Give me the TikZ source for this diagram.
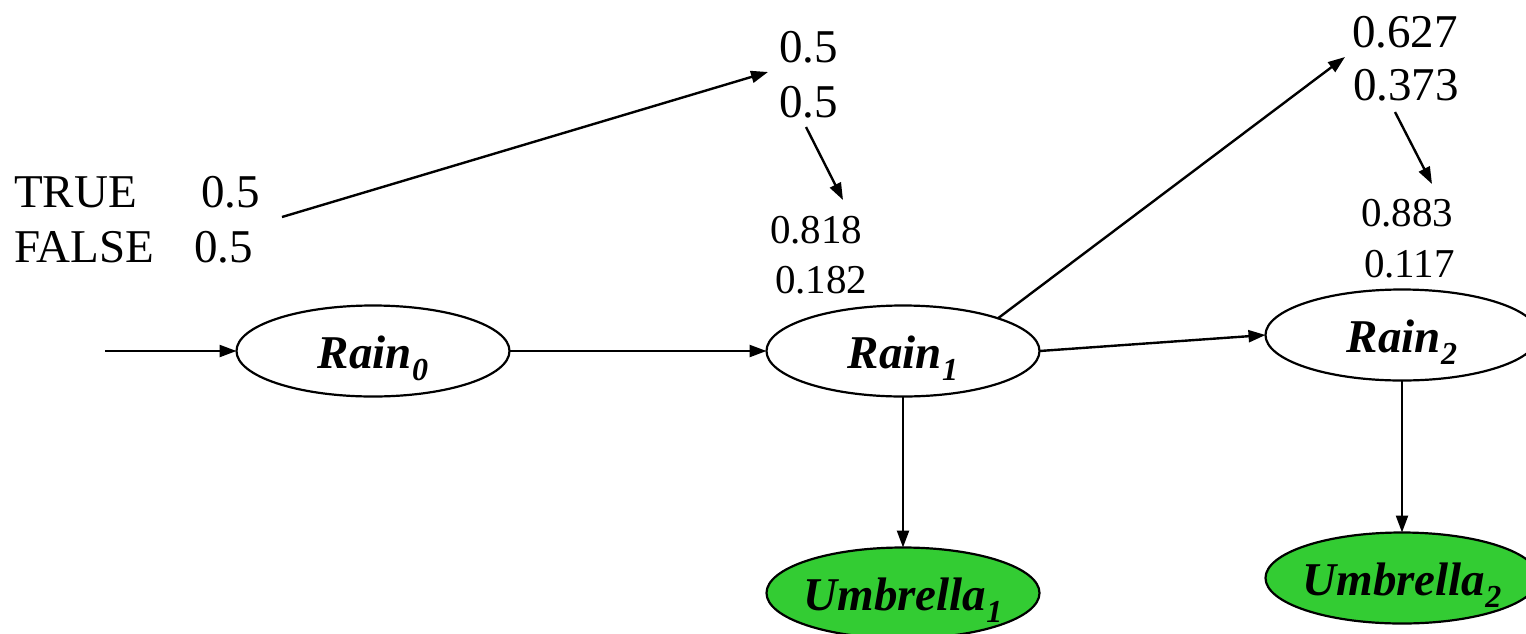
\documentclass[tikz,border=0pt]{standalone}
\usepackage{fontspec}
\setmainfont{Liberation Serif}
\usetikzlibrary{arrows.meta,shapes.geometric}
\definecolor{umbgreen}{RGB}{51,204,51}
\newcommand\subidx[1]{\raisebox{-12pt}{\fontsize{32}{32}\selectfont #1}}
\newcommand\vlab[2]{\makebox[0pt][c]{#1\subidx{#2}}}
\begin{document}
\begin{tikzpicture}[x=1pt,y=-1pt,
  every node/.style={inner sep=0pt,outer sep=0pt},
  var/.style={ellipse,draw=black,line width=2.2pt,minimum width=273pt,minimum height=91pt,
    font=\fontsize{47}{56}\selectfont\bfseries\itshape,text height=34pt,text depth=0pt},
  ev/.style={var,fill=umbgreen},
  numbig/.style={anchor=base west,font=\fontsize{47}{56}\selectfont},
  numsmall/.style={anchor=base west,font=\fontsize{41}{49}\selectfont},
  arr/.style={-{Triangle[length=17pt,width=12pt]},line width=2.4pt}]
\useasboundingbox (0,0) rectangle (1526,633);
\clip (0,0) rectangle (1526,633);
% variables
\node[var] (r0) at (373,351) {\vlab{Rain}{0}};
\node[var] (r1) at (903,351) {\vlab{Rain}{1}};
\node[var] (r2) at (1402,335) {\vlab{Rain}{2}};
\node[ev] (u1) at (903,593) {\vlab{Umbrella}{1}};
\node[ev] (u2) at (1402,578) {\vlab{Umbrella}{2}};
% prior
\node[numbig] (tt) at (14,207) {TRUE};
\node[numbig] (tv) at (201,207) {0.5};
\node[numbig] (ft) at (14,262) {FALSE};
\node[numbig] (fv) at (194,262) {0.5};
% predictions and filtered values
\node[numbig] (q1a) at (779,62) {0.5};
\node[numbig] (q1b) at (779,117) {0.5};
\node[numsmall] (f1a) at (770,243) {0.818};
\node[numsmall] (f1b) at (775,293) {0.182};
\node[numbig] (q2a) at (1352,47) {0.627};
\node[numbig] (q2b) at (1353,100) {0.373};
\node[numsmall] (f2a) at (1361,226) {0.883};
\node[numsmall] (f2b) at (1364,277) {0.117};
% connector ends
\coordinate (in0) at (105,351);
\coordinate (p0) at (282,217);
\coordinate (p1) at (768,72);
\coordinate (s1) at (806,127);
\coordinate (e1) at (843,200);
\coordinate (p2) at (1345,57);
\coordinate (s2) at (1395,112);
\coordinate (e2) at (1432,184);
% connectors
\draw[arr] (in0) -- (r0.west);
\draw[arr] (r0.east) -- (r1.west);
\draw[arr] (r1.east) -- (r2.west);
\draw[arr] (r1.south) -- (u1.north);
\draw[arr] (r2.south) -- (u2.north);
\draw[arr] (p0) -- (p1);
\draw[arr] (s1) -- (e1);
\draw[arr] (r1.19) -- (p2);
\draw[arr] (s2) -- (e2);
\end{tikzpicture}
\end{document}
